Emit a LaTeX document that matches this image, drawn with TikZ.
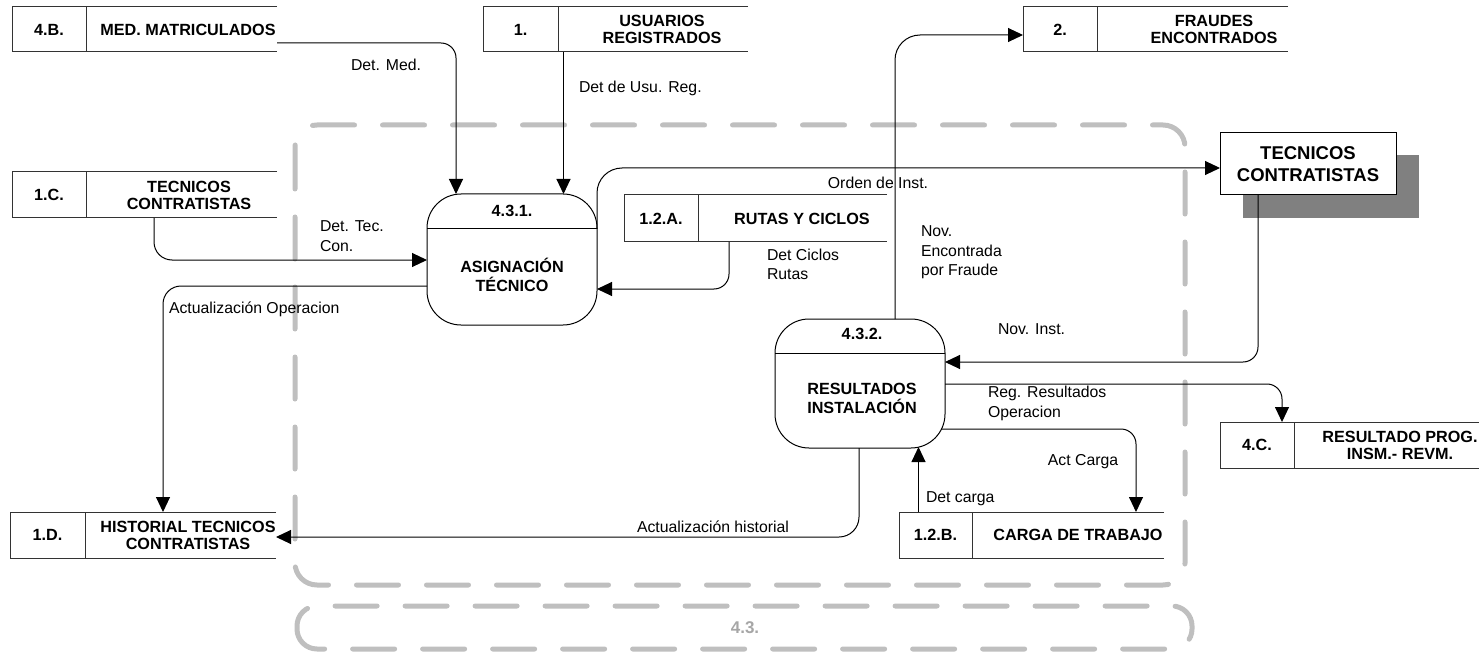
\documentclass[tikz,border=0pt]{standalone}
\usepackage{fontspec}
\setmainfont{Liberation Sans}
\usetikzlibrary{arrows.meta,calc}
\newcommand{\dstore}[9]{%
  \node[minimum width={#4-#2}, minimum height={#6-#5}, anchor=north west] (#1) at (#2,#5) {};
  \draw[storeline] (#1.north east) -- (#1.north west) -- (#1.south west) -- (#1.south east);
  \draw[storeline] (#3,#5) -- (#3,#6);
  \node[btxt] (#1-id) at ({(#2+#3)/2},{(#5+#6)/2}) {#7};
  \node[btxt] (#1-txt) at (#9,{(#5+#6)/2}) {#8};
}
\begin{document}
\begin{tikzpicture}[x=1pt,y=-1pt,
  every node/.style={inner sep=0pt, outer sep=0pt},
  lbl/.style={font=\fontsize{15.8}{19.5}\selectfont, align=left, anchor=west},
  btxt/.style={font=\fontsize{16.2}{17}\selectfont\bfseries, align=center},
  storeline/.style={draw=black!80, line width=1pt},
  flow/.style={draw=black, line width=1pt, -{Triangle[length=15pt,width=14pt]}},
  bound/.style={draw=black!25, line width=5pt, line cap=round, dash pattern=on 42pt off 28pt, rounded corners=22pt},
  proc/.style={draw=black, line width=1pt, rounded corners=34pt, minimum width=170pt},
]
\useasboundingbox (0,0) rectangle (1479,652);

% process boundary 4.3.
\draw[bound] (295,125) rectangle (1185,585);
\draw[bound, rounded corners=20pt] (297,606) rectangle (1192,649);
\node[font=\fontsize{17}{20}\selectfont\bfseries, text=black!35] (lbl43) at (745,628) {4.3.};

% data stores
\dstore{s4B}{12}{86}{277}{7}{52}{4.B.}{MED. MATRICULADOS}{188}
\dstore{s1}{483}{558}{748}{7}{52}{1.}{USUARIOS\\REGISTRADOS}{662}
\dstore{s2}{1023}{1097}{1288}{7}{52}{2.}{FRAUDES\\ENCONTRADOS}{1214}
\dstore{s1C}{12}{86}{277}{172}{218}{1.C.}{TECNICOS\\CONTRATISTAS}{189}
\dstore{s12A}{624}{698}{887}{195}{242}{1.2.A.}{RUTAS Y CICLOS}{802}
\dstore{s1D}{10}{85}{276}{512}{558}{1.D.}{HISTORIAL TECNICOS\\CONTRATISTAS}{188}
\dstore{s12B}{899}{972}{1164}{512}{558}{1.2.B.}{CARGA DE TRABAJO}{1078}
\dstore{s4C}{1220}{1294}{1479}{422}{468}{4.C.}{RESULTADO PROG.\\INSM.- REVM.}{1400}

% external entity
\fill[black!50] (1243,155) rectangle (1419,218);
\node[draw=black, fill=white, line width=1pt, minimum width=176pt, minimum height=62pt,
      font=\fontsize{18.5}{22}\selectfont\bfseries, align=center] (ext) at (1308,164) {TECNICOS\\CONTRATISTAS};

% processes
\node[proc, minimum height=131pt] (p431) at (512,259.5) {};
\coordinate (p431-dl) at ($(p431.north west)+(0,35)$);
\coordinate (p431-dr) at ($(p431.north east)+(0,35)$);
\draw[line width=1pt] (p431-dl) -- (p431-dr);
\node[btxt] (p431-n) at (512,211) {4.3.1.};
\node[btxt, font=\fontsize{16.2}{19}\selectfont\bfseries] (p431-t) at (512,275) {ASIGNACIÓN\\TÉCNICO};

\node[proc, minimum height=129pt] (p432) at (860,383.5) {};
\coordinate (p432-dl) at ($(p432.north west)+(0,34)$);
\coordinate (p432-dr) at ($(p432.north east)+(0,34)$);
\draw[line width=1pt] (p432-dl) -- (p432-dr);
\node[btxt] (p432-n) at (862,334) {4.3.2.};
\node[btxt, font=\fontsize{16.2}{19}\selectfont\bfseries] (p432-t) at (862,398.5) {RESULTADOS\\INSTALACIÓN};

% connectors
\coordinate (c1) at (456,43);
\draw[flow, rounded corners=15pt] (s4B.east |- c1) -- (c1) -- (c1 |- p431.north);
\coordinate (c2) at (563.5,0);
\draw[flow] (s1.south -| c2) -- (c2 |- p431.north);
\coordinate (c3) at (154,260);
\draw[flow, rounded corners=18pt] (s1C.south -| c3) -- (c3) -- (c3 -| p431.west);
\coordinate (c4) at (163,286);
\draw[flow, rounded corners=18pt] (p431.west |- c4) -- (c4) -- (c4 |- s1D.north);
\coordinate (c5) at (729,289);
\draw[flow, rounded corners=15pt] (s12A.south -| c5) -- (c5) -- (c5 -| p431.east);
\coordinate (c6) at (597,168);
\draw[flow, rounded corners=25pt] (p431-dr) -- (c6) -- (c6 -| ext.west);
\coordinate (c7) at (895,35);
\draw[flow, rounded corners=25pt] (c7 |- p432.north) -- (c7) -- (c7 -| s2.west);
\coordinate (c8) at (1258,362);
\draw[flow, rounded corners=15pt] (ext.south -| c8) -- (c8) -- (c8 -| p432.east);
\coordinate (c9) at (1282,384);
\draw[flow, rounded corners=15pt] (p432.east |- c9) -- (c9) -- (c9 |- s4C.north);
\coordinate (c10s) at ($(p432.south east)+(-4,-19)$);
\coordinate (c10) at (1136,429);
\draw[flow, rounded corners=15pt] (c10s) -- (c10) -- (c10 |- s12B.north);
\coordinate (c11) at ($(p432.south)+(58.5,-1)$);
\draw[flow] (s12B.north -| c11) -- (c11);
\coordinate (c12) at (859,537);
\draw[flow, rounded corners=20pt] (p432.south -| c12) -- (c12) -- (c12 -| s1D.east);

% labels
\node[lbl, anchor=center] (l1) at (386,65) {Det. Med.};
\node[lbl] (l2) at (579,88) {Det de Usu. Reg.};
\node[lbl] (l3) at (320,236) {Det. Tec.\\Con.};
\node[lbl] (l4) at (169,309) {Actualización Operacion};
\node[lbl] (l5) at (767,264.5) {Det Ciclos\\Rutas};
\node[lbl, anchor=center] (l6) at (878,183) {Orden de Inst.};
\node[lbl] (l7) at (921,252.5) {Nov.\\Encontrada\\por Fraude};
\node[lbl] (l8) at (998,329) {Nov. Inst.};
\node[lbl] (l9) at (988,403.5) {Reg. Resultados\\Operacion};
\node[lbl, anchor=center] (l10) at (1083,462) {Act Carga};
\node[lbl] (l11) at (926,499) {Det carga};
\node[lbl] (l12) at (637,527) {Actualización historial};
\end{tikzpicture}
\end{document}
